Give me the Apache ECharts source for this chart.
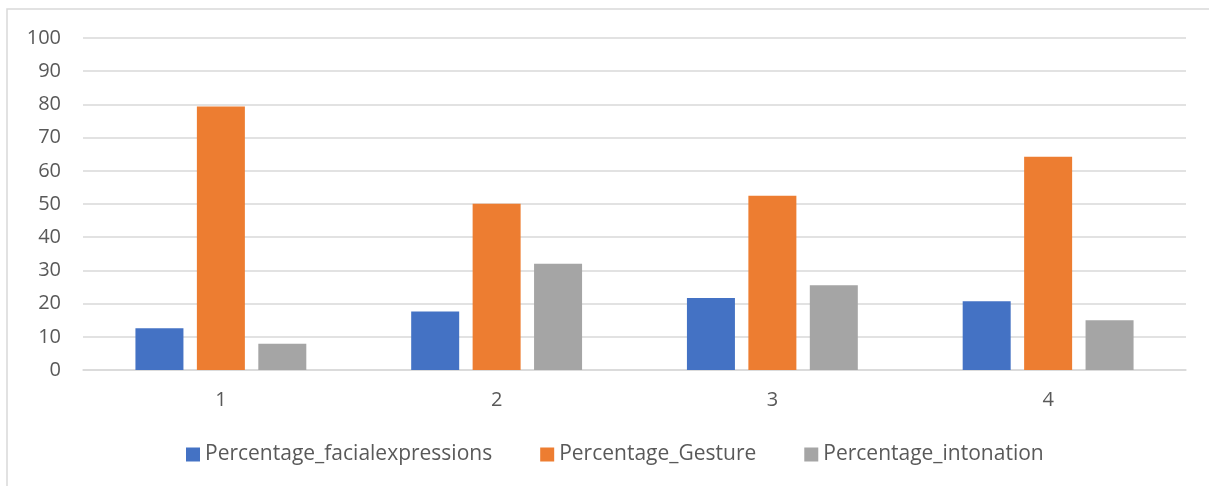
<!DOCTYPE html>
<html>
<head>
<meta charset="utf-8">
<script src="https://cdn.jsdelivr.net/npm/echarts@6/dist/echarts.min.js"></script>
<style>
  html, body { margin: 0; padding: 0; background: #fff; }
  #chart { width: 1209px; height: 486px; }
</style>
</head>
<body>
<div id="chart"></div>
<script>
// Categories and series values
const categories = ['1', '2', '3', '4'];
const facialExpressions = [12.6, 17.6, 21.7, 20.7];
const gesture = [79.4, 50.1, 52.5, 64.2];
const intonation = [7.9, 32.0, 25.5, 15.0];
const yTicks = { min: 0, max: 100, interval: 10 };

const textColor = '#595959';
const gridColor = '#d9d9d9';
const fontFamily = 'Open Sans, Noto Sans, sans-serif';

const chart = echarts.init(document.getElementById('chart'), null, { renderer: 'canvas' });

function barSeries(name, data, color) {
  return {
    name: name,
    type: 'bar',
    data: data,
    barWidth: 48,
    barGap: '28%',
    itemStyle: { color: color },
    emphasis: { disabled: true }
  };
}

chart.setOption({
  animation: false,
  graphic: [{
    type: 'rect',
    shape: { x: 7, y: 9, width: 1220, height: 500 },
    style: { fill: 'none', stroke: '#d9d9d9', lineWidth: 1.5 },
    silent: true
  }],
  grid: { left: 83, right: 23, top: 38, bottom: 116 },
  legend: {
    bottom: 16,
    left: 181,
    itemWidth: 14,
    itemHeight: 14,
    itemGap: 48,
    icon: 'rect',
    textStyle: { color: textColor, fontSize: 21, fontFamily: fontFamily, padding: [0, 0, 0, 0] },
    data: ['Percentage_facialexpressions', 'Percentage_Gesture', 'Percentage_intonation']
  },
  xAxis: {
    type: 'category',
    data: categories,
    axisLine: { show: true, lineStyle: { color: gridColor, width: 1.5 } },
    axisTick: { show: false },
    axisLabel: { color: textColor, fontSize: 20, fontFamily: fontFamily, margin: 20 }
  },
  yAxis: {
    type: 'value',
    min: yTicks.min,
    max: yTicks.max,
    interval: yTicks.interval,
    axisLine: { show: false },
    axisTick: { show: false },
    splitLine: { lineStyle: { color: gridColor, width: 1.5 } },
    axisLabel: { color: textColor, fontSize: 20, fontFamily: fontFamily, margin: 22 }
  },
  series: [
    barSeries('Percentage_facialexpressions', facialExpressions, '#4472c4'),
    barSeries('Percentage_Gesture', gesture, '#ed7d31'),
    barSeries('Percentage_intonation', intonation, '#a5a5a5')
  ]
});
</script>
</body>
</html>
